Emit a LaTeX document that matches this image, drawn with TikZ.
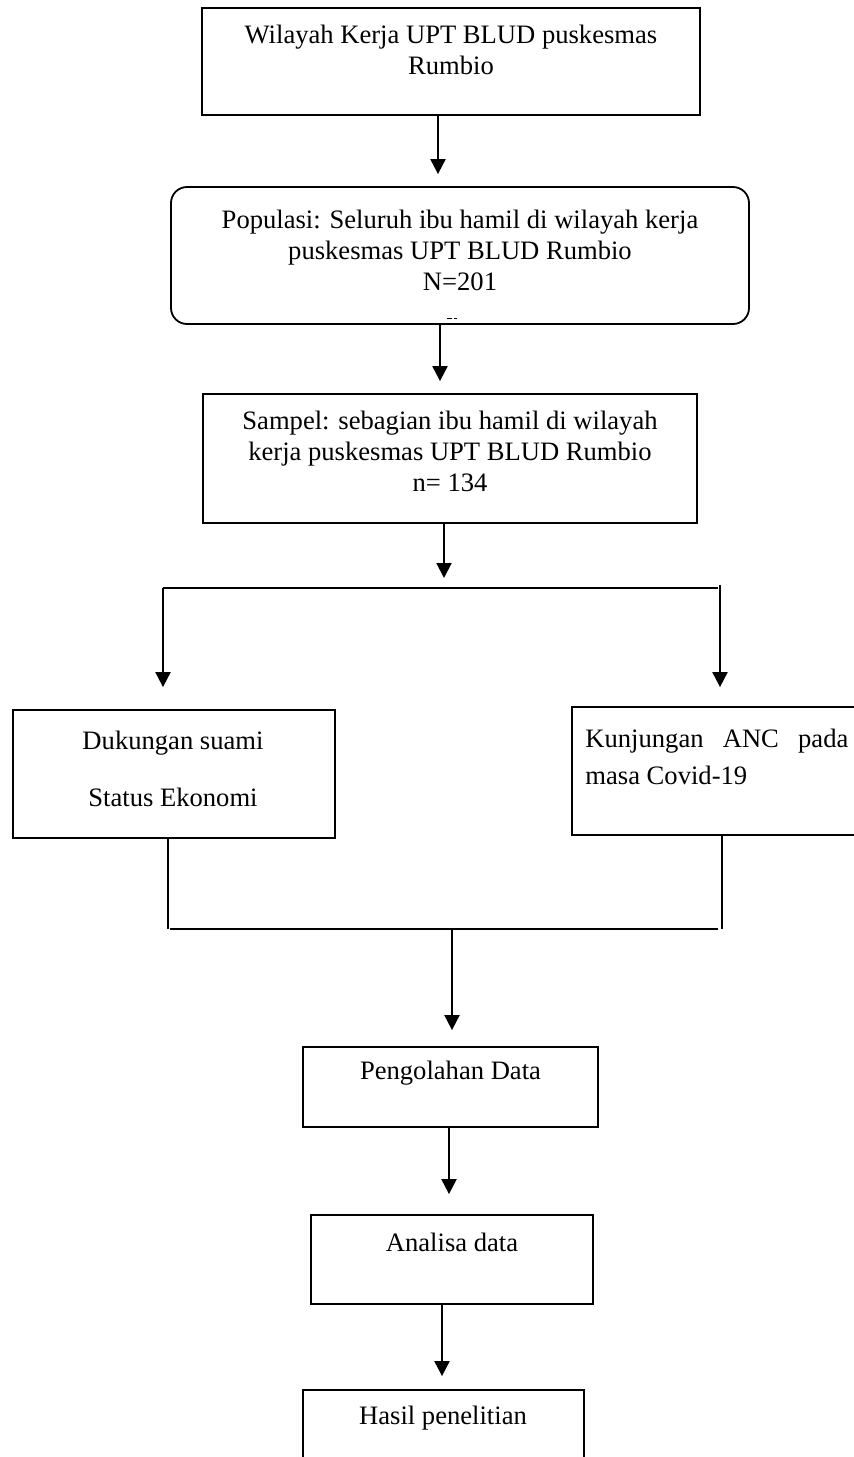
\documentclass[tikz,border=0pt]{standalone}
\usepackage{fontspec}
\setmainfont{Liberation Serif}
\usetikzlibrary{arrows.meta,calc}
\tikzset{
  boxnode/.style={draw=black, line width=0.9pt, rectangle, inner sep=0pt},
  roundbox/.style={boxnode, rounded corners=8pt},
  txt/.style={inner sep=0pt, align=center, font=\fontsize{13.3}{15.5}\selectfont},
  arr/.style={line width=1pt, -{Triangle[length=7.5pt,width=7.5pt]}},
  joinline/.style={line width=1pt},
  thinline/.style={line width=0.6pt}
}
\begin{document}
\begin{tikzpicture}[x=0.5pt,y=-0.5pt]
\useasboundingbox (0,0) rectangle (854,1457);
% boxes
\node[boxnode, minimum width=249pt, minimum height=53.5pt] (b1) at (451,61.5) {};
\node[roundbox, minimum width=289pt, minimum height=68.5pt] (b2) at (460,255.5) {};
\node[boxnode, minimum width=247pt, minimum height=64.5pt] (b3) at (450,458.5) {};
\node[boxnode, minimum width=161pt, minimum height=64pt] (bL) at (174,774) {};
\node[boxnode, minimum width=149pt, minimum height=64pt] (bR) at (721,771) {};
\node[boxnode, minimum width=147.5pt, minimum height=40pt] (bP) at (450.5,1087) {};
\node[boxnode, minimum width=141pt, minimum height=44.5pt] (bA) at (452,1259.5) {};
\node[boxnode, minimum width=140.5pt, minimum height=45pt] (bH) at (443.5,1435) {};
% texts
\node[txt] (t1) at (451,50) {Wilayah Kerja UPT BLUD puskesmas\\Rumbio};
\node[txt] (t2) at (460,250) {Populasi: Seluruh ibu hamil di wilayah kerja\\puskesmas UPT BLUD Rumbio\\N=201};
\node[txt] (t3) at (450,451.5) {Sampel: sebagian ibu hamil di wilayah\\kerja puskesmas UPT BLUD Rumbio\\n= 134};
\node[txt] (tL) at (173,768.5) {Dukungan suami\\[13pt]Status Ekonomi};
\node[txt, align=left, anchor=west] (tR) at (585,756.5) {\makebox[131.5pt][s]{Kunjungan\hfill ANC\hfill pada}\\[3pt]masa Covid-19};
\node[txt] (tP) at (450.5,1073) {Pengolahan Data};
\node[txt] (tA) at (452,1242) {Analisa data};
\node[txt] (tH) at (443,1418) {Hasil penelitian};
% clipped mark under N=201
\draw[line width=0.7pt, dash pattern=on 2.5pt off 1pt] ([yshift=-14pt]t2.south -| 447,0) -- ([yshift=-14pt]t2.south -| 457,0);
% x positions of connectors
\coordinate (x1) at (438,0);
\coordinate (x2) at (440,0);
\coordinate (x3) at (444,0);
\coordinate (sL) at (163,588);
\coordinate (sR) at (718,588);
\coordinate (sR2) at (720,585);
\coordinate (mL) at (168,929);
\coordinate (mR) at (722,929);
\coordinate (mM) at (452,929);
\coordinate (x5) at (449,0);
\coordinate (x6) at (442,0);
% connectors
\draw[arr] (b1.south -| x1) -- ([yshift=6pt]b2.north -| x1);
\draw[arr] (b2.south -| x2) -- ([yshift=6pt]b3.north -| x2);
\draw[arr] (b3.south -| x3) -- ([yshift=5pt]sL -| x3);
\draw[joinline] (sL) -- (sR);
\draw[arr] (sL) -- ([yshift=11pt]bL.north -| sL);
\draw[arr] (sR2) -- ([yshift=9.5pt]bR.north -| sR2);
\draw[thinline] (bL.south -| mL) -- (mL);
\draw[thinline] (bR.south -| mR) -- (mR);
\draw[joinline] ([xshift=1pt]mL) -- ([xshift=-2pt]mR);
\draw[arr] (mM) -- ([yshift=8pt]bP.north -| mM);
\draw[arr] (bP.south -| x5) -- ([yshift=10pt]bA.north -| x5);
\draw[arr] (bA.south -| x6) -- ([yshift=6.5pt]bH.north -| x6);
\end{tikzpicture}
\end{document}
